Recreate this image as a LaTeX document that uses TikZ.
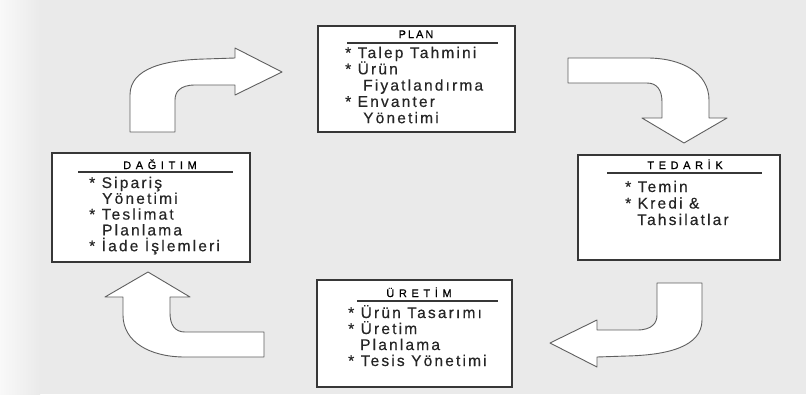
\documentclass[tikz,border=0pt]{standalone}
\usepackage{fontspec}
\newfontfamily\itemfont[LetterSpace=14,FakeBold=0.4]{Liberation Sans}
\newfontfamily\titlefont[LetterSpace=42,FakeBold=0.6]{Liberation Sans}
\newfontfamily\plantitlefont[LetterSpace=18,FakeBold=0.6]{Liberation Sans}
\definecolor{bggray}{RGB}{234,234,234}
\definecolor{boxline}{RGB}{55,55,55}
\definecolor{arrowline}{RGB}{95,95,95}

\begin{document}
\begin{tikzpicture}[x=1pt,y=-1pt,
  stage/.style={draw=boxline,line width=1.6pt,fill=white,inner sep=0pt},
  blockarrow/.style={draw=arrowline,line width=0.9pt,fill=white,line join=round},
  title/.style={font=\titlefont\fontsize{11}{12}\selectfont,anchor=base,inner sep=0pt},
  item/.style={font=\itemfont\fontsize{15.5}{16}\selectfont,text=black!85,anchor=base west,inner sep=0pt}]
\fill[bggray] (0,0) rectangle (806,394);
\shade[left color=white!70!bggray,right color=bggray] (0,0) rectangle (40,394);
\useasboundingbox (0,0) rectangle (806,394);

% the four stages
\node[stage,minimum width=197pt,minimum height=106pt] (plan) at (416.5,79) {};
\node[stage,minimum width=202pt,minimum height=105pt] (tedarik) at (679,207.5) {};
\node[stage,minimum width=195pt,minimum height=107pt] (uretim) at (414.5,333.5) {};
\node[stage,minimum width=198pt,minimum height=109pt] (dagitim) at (151,207.5) {};

\node[title,font=\plantitlefont\fontsize{11}{12}\selectfont] (plan-t) at (416,38) {PLAN};
\node[title] (tedarik-t) at (685,169) {TEDARİK};
\node[title] (uretim-t) at (419,297) {ÜRETİM};
\node[title] (dagitim-t) at (160,169) {DAĞITIM};
\draw[boxline,line width=1.2pt] (347,43)--(498,43) (607,173)--(762,173)
  (357,301)--(498,301) (78,172)--(233,172);

\node[item] (plan-1) at (345,58) {* Talep Tahmini};
\node[item] (plan-2) at (345,74.3) {* Ürün};
\node[item] (plan-3) at (363,90.6) {Fiyatlandırma};
\node[item] (plan-4) at (345,106.9) {* Envanter};
\node[item] (plan-5) at (363,123.2) {Yönetimi};

\node[item] (tedarik-1) at (625,192) {* Temin};
\node[item] (tedarik-2) at (625,208.5) {* Kredi \&};
\node[item] (tedarik-3) at (637,225) {Tahsilatlar};

\node[item] (uretim-1) at (348,318) {* Ürün Tasarımı};
\node[item] (uretim-2) at (348,334) {* Üretim};
\node[item] (uretim-3) at (360,350) {Planlama};
\node[item] (uretim-4) at (348,366) {* Tesis Yönetimi};

\node[item] (dagitim-1) at (89,188) {* Sipariş};
\node[item] (dagitim-2) at (102,203.8) {Yönetimi};
\node[item] (dagitim-3) at (89,219.6) {* Teslimat};
\node[item] (dagitim-4) at (102,235.4) {Planlama};
\node[item] (dagitim-5) at (89,251.2) {* İade İşlemleri};

% block arrows, the lower right and upper right ones are turned half round
\draw[blockarrow] (130,132)--(130,95) .. controls (130,68) and (165,60) .. (205,59)--(235,58)
  --(235,48)--(282,72)--(235,95)--(235,85)--(195,85) .. controls (180,85) and (175,92) .. (175,100)--(175,132)--cycle;
\draw[blockarrow,rotate around={180:(416,207.5)}] (130,132)--(130,95) .. controls (130,68) and (165,60) .. (205,59)--(235,58)
  --(235,48)--(282,72)--(235,95)--(235,85)--(195,85) .. controls (180,85) and (175,92) .. (175,100)--(175,132)--cycle;
\draw[blockarrow] (264,357)--(185,357) .. controls (150,357) and (123,342) .. (123,315)--(123,297)
  --(105,297)--(148,272)--(190,297)--(170,297)--(170,313) .. controls (170,325) and (175,332) .. (185,332)--(264,332)--cycle;
\draw[blockarrow,rotate around={180:(416,207.5)}] (264,357)--(185,357) .. controls (150,357) and (123,342) .. (123,315)--(123,297)
  --(105,297)--(148,272)--(190,297)--(170,297)--(170,313) .. controls (170,325) and (175,332) .. (185,332)--(264,332)--cycle;
\end{tikzpicture}
\end{document}
